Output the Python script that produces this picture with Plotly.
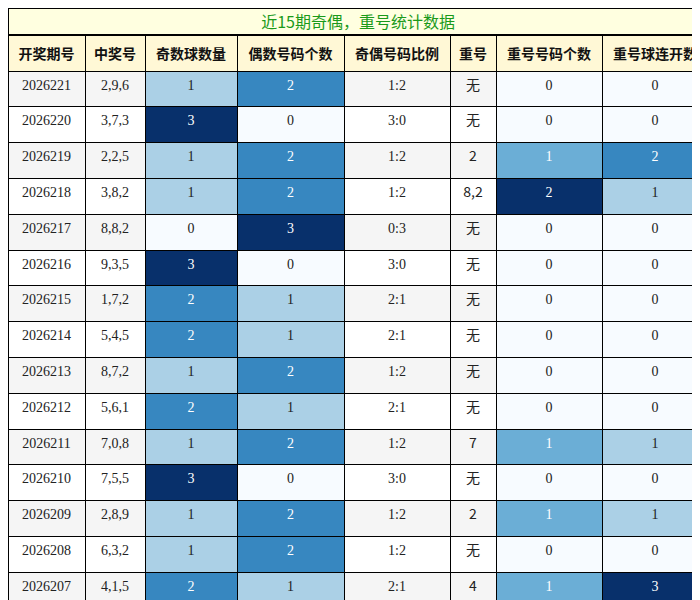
import plotly.graph_objects as go
from plotly.colors import sample_colorscale

periods = ["2026221", "2026220", "2026219", "2026218", "2026217", "2026216", "2026215", "2026214",
           "2026213", "2026212", "2026211", "2026210", "2026209", "2026208", "2026207"]
numbers = ["2,9,6", "3,7,3", "2,2,5", "3,8,2", "8,8,2", "9,3,5", "1,7,2", "5,4,5",
           "8,7,2", "5,6,1", "7,0,8", "7,5,5", "2,8,9", "6,3,2", "4,1,5"]
odd_count = [1, 3, 1, 1, 0, 3, 2, 2, 1, 2, 1, 3, 1, 1, 2]
even_count = [2, 0, 2, 2, 3, 0, 1, 1, 2, 1, 2, 0, 2, 2, 1]
ratio = ["1:2", "3:0", "1:2", "1:2", "0:3", "3:0", "2:1", "2:1", "1:2", "2:1", "1:2", "3:0", "1:2", "1:2", "2:1"]
repeat = ["无", "无", "2", "8,2", "无", "无", "无", "无", "无", "无", "7", "无", "2", "无", "4"]
repeat_count = [0, 0, 1, 2, 0, 0, 0, 0, 0, 0, 1, 0, 1, 0, 1]
repeat_streak = [0, 0, 2, 1, 0, 0, 0, 0, 0, 0, 1, 0, 1, 0, 3]
headers = ["开奖期号", "中奖号", "奇数球数量", "偶数号码个数", "奇偶号码比例", "重号", "重号号码个数", "重号球连开数"]
title = "近15期奇偶，重号统计数据"

widths = [77, 60, 92, 107, 106, 46, 106, 106]
n = len(periods)
stripe = ["#f5f5f5" if i % 2 == 0 else "#ffffff" for i in range(n)]


def heat(vals, vmax):
    norm = [v / vmax for v in vals]
    fills = sample_colorscale("Blues", norm)
    fonts = ["#ffffff" if x >= 0.5 else "#222222" for x in norm]
    return fills, fonts


f_odd, c_odd = heat(odd_count, 3)
f_even, c_even = heat(even_count, 3)
f_rc, c_rc = heat(repeat_count, 2)
f_rs, c_rs = heat(repeat_streak, 3)
plain = ["#222222"] * n

H = 600
title_h, head_h = 27, 36
cell_h = (H - title_h - head_h) / n

fig = go.Figure()
fig.add_trace(go.Table(
    domain=dict(x=[0, 1], y=[1 - title_h / H, 1]),
    columnwidth=[1],
    header=dict(values=[title], fill_color="#ffffe0", line=dict(color="#000000", width=2),
                align="center", height=title_h,
                font=dict(family="Noto Sans CJK SC", size=16, color="#1a9a1a")),
))
fig.add_trace(go.Table(
    domain=dict(x=[0, 1], y=[0, 1 - title_h / H]),
    columnwidth=widths,
    header=dict(values=["<b>%s</b>" % h for h in headers], fill_color="#fff8d6",
                line=dict(color="#000000", width=1), align="center", height=head_h,
                font=dict(family="Noto Sans CJK SC", size=14, color="#111111")),
    cells=dict(values=[periods, numbers, odd_count, even_count, ratio, repeat, repeat_count, repeat_streak],
               fill_color=[stripe, stripe, f_odd, f_even, stripe, stripe, f_rc, f_rs],
               font=dict(family=["Liberation Serif"] * 5 + ["Noto Sans CJK SC"] + ["Liberation Serif"] * 2,
                         size=14, color=[plain, plain, c_odd, c_even, plain, plain, c_rc, c_rs]),
               line=dict(color="#000000", width=1), align="center", height=cell_h),
))
fig.update_layout(width=700, height=600, margin=dict(l=0, r=0, t=0, b=0), paper_bgcolor="#ffffff")
fig.write_html("out.html")
